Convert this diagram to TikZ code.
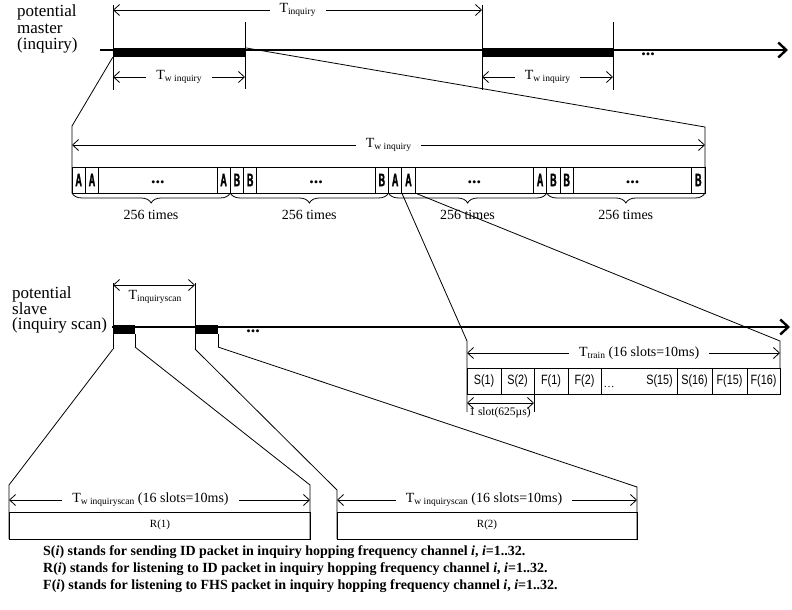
\documentclass[tikz,border=0pt]{standalone}
\usepackage{fontspec}
\setmainfont{Liberation Serif}
\newfontfamily\slotfont[FakeStretch=0.8]{Liberation Sans}
\newfontfamily\cellfont[FakeStretch=0.5,BoldFeatures={FakeBold=1.5}]{Liberation Sans}
\usetikzlibrary{arrows.meta,decorations.pathreplacing}

\newcommand{\Tsub}[1]{T\raisebox{-0.3ex}{\fontsize{9.5}{10}\selectfont #1}}

\tikzset{
  tickline/.style={line width=0.8pt},
  axisline/.style={line width=2.4pt,-{Straight Barb[length=8pt,width=15pt]}},
  dimline/.style={line width=0.8pt,{Straight Barb[length=6pt,width=11pt]}-{Straight Barb[length=6pt,width=11pt]}},
  gap/.style={fill=white,inner xsep=10pt,inner ysep=1pt,font=\fontsize{14}{16}\selectfont},
  lab/.style={font=\fontsize{14}{16}\selectfont},
  burst/.style={fill=black,inner sep=0pt,minimum height=9pt},
  dots/.style={font=\bfseries\fontsize{18}{18}\selectfont,inner sep=0pt},
  cellletter/.style={font=\cellfont\bfseries\fontsize{18}{18}\selectfont,inner sep=0pt},
  slotcell/.style={font=\slotfont\fontsize{13.5}{14}\selectfont,inner sep=0pt},
  brace/.style={decorate,decoration={brace,mirror,amplitude=10pt},line width=0.8pt}
}

\begin{document}
\begin{tikzpicture}[x=1pt,y=-1pt]
\useasboundingbox (0,0) rectangle (792,610);

% potential master
\node[align=left,anchor=north west,inner sep=0pt,font=\fontsize{17}{16.5}\selectfont] (master) at (17,5) {potential\\master\\(inquiry)};
\coordinate (mstart) at (100,50);
\coordinate (mend) at (788,50);
\draw[axisline] (mstart) -- (mend);
\node[burst,minimum width=132pt] (mbar1) at (179,52.5) {};
\node[burst,minimum width=131pt] (mbar2) at (547.5,52.5) {};
\node[dots] (mdots) at (648,54) {...};

% ticks and durations of the master
\draw[tickline] (113,5) -- (113,90);
\draw[tickline] (245,22) -- (245,89);
\draw[tickline] (482,5) -- (482,90);
\draw[tickline] (613,22) -- (613,90);
\draw[dimline] (113,10) -- node[gap] (tinq) {\Tsub{inquiry}} (482,10);
\draw[dimline] (113,77) -- node[gap] (tw1) {\Tsub{w inquiry}} (245,77);
\draw[dimline] (482,77) -- node[gap] (tw2) {\Tsub{w inquiry}} (613,77);

% zoom of one inquiry window
\coordinate (wleft) at (72,126);
\coordinate (wright) at (705,127);
\draw[tickline] (mbar1.south west) -- (wleft) -- (72,193);
\draw[tickline] (mbar1.north east) -- (wright) -- (705,193);
\draw[dimline] (72,145) -- node[gap] (twin) {\Tsub{w inquiry}} (705,145);
\draw[tickline] (72,167) rectangle (705,193);

\foreach \g/\l in {0/A,1/B,2/A,3/B}{
  \pgfmathsetmacro\xa{72+158.25*\g}
  \pgfmathsetmacro\xb{\xa+158.25}
  \draw[tickline] (\xa,167) -- (\xa,193);
  \draw[tickline] (\xa+13.3,167) -- (\xa+13.3,193);
  \draw[tickline] (\xa+26.6,167) -- (\xa+26.6,193);
  \draw[tickline] (\xb-13.3,167) -- (\xb-13.3,193);
  \node[cellletter] (c\g a) at (\xa+6.65,180) {\l};
  \node[cellletter] (c\g b) at (\xa+19.95,180) {\l};
  \node[cellletter] (c\g z) at (\xb-6.65,180) {\l};
  \node[dots] (c\g d) at (\xa+85.8,182) {...};
  \draw[brace] (\xa,193) -- (\xb,193);
  \node[lab] (times\g) at (\xa+79,215) {256 times};
}

% zoom of one train
\coordinate (tl) at (401.8,193);
\coordinate (tr) at (415.1,193);
\coordinate (trainL) at (467,341);
\coordinate (trainR) at (780,341);
\draw[tickline] (tl) -- (trainL) -- (467,412);
\draw[tickline] (tr) -- (trainR) -- (780,368);
\draw[dimline] (467,353) -- node[gap,pos=0.55] (ttrain) {\Tsub{train} (16 slots=10ms)} (780,353);
\draw[tickline] (467,368) rectangle (780,394);
\foreach \xa/\xb/\t [count=\i] in {467/501/S(1),501/534/S(2),534/568/F(1),568/601/F(2),642/677/S(15),677/712/S(16),712/747/F(15),747/780/F(16)}{
  \draw[tickline] (\xb,368) -- (\xb,394);
  \node[slotcell] (slot\i) at ({(\xa+\xb)/2},381) {\t};
}
\draw[tickline] (601,368) -- (601,394);
\node[font=\fontsize{11}{11}\selectfont,inner sep=0pt] (slotdots) at (609,387) {\ldots};
\draw[tickline] (534,394) -- (534,412);
\draw[dimline] (467,403) -- (534,403);
\node[font=\fontsize{11.5}{12}\selectfont,inner sep=0pt] (oneslot) at (500,413) {1 slot(625µs)};

% potential slave
\node[align=left,anchor=north west,inner sep=0pt,font=\fontsize{17}{15.5}\selectfont] (slave) at (12,287) {potential\\slave\\(inquiry scan)};
\coordinate (sstart) at (112,327);
\coordinate (send) at (790,327);
\draw[axisline] (sstart) -- (send);
\node[burst,minimum width=22pt] (sbar1) at (124,329.5) {};
\node[burst,minimum width=23pt] (sbar2) at (206.5,329.5) {};
\node[dots] (sdots) at (253,331) {...};
\draw[tickline] (113,283) -- (113,349);
\draw[tickline] (195,283) -- (195,349);
\draw[tickline] (135,334) -- (135,347);
\draw[tickline] (218,334) -- (218,347);
\draw[dimline] (113,285) -- (195,285);
\node[inner sep=0pt,font=\fontsize{14}{16}\selectfont] (tscan) at (155,297) {\Tsub{inquiryscan}};

% zoom of the scan windows
\coordinate (r1l) at (9,485);
\coordinate (r1r) at (310,485);
\coordinate (r2l) at (337,490);
\coordinate (r2r) at (637,487);
\draw[tickline] (113,349) -- (r1l) -- (9,539);
\draw[tickline] (135,347) -- (r1r) -- (310,539);
\draw[tickline] (195,349) -- (r2l) -- (337,539);
\draw[tickline] (218,347) -- (r2r) -- (637,539);
\draw[dimline] (9,500) -- node[gap,pos=0.47] (tws1) {\Tsub{w inquiryscan} (16 slots=10ms)} (310,500);
\draw[dimline] (337,500) -- node[gap,pos=0.49] (tws2) {\Tsub{w inquiryscan} (16 slots=10ms)} (637,500);
\draw[tickline] (9,512) rectangle (310,539);
\draw[tickline] (337,512) rectangle (637,539);
\node[font=\fontsize{11}{12}\selectfont] (r1) at (160,525) {R(1)};
\node[font=\fontsize{11}{12}\selectfont] (r2) at (487,525) {R(2)};

% legend
\node[align=left,anchor=north west,inner sep=0pt,font=\bfseries\fontsize{14}{17}\selectfont] (legend) at (43,545)
  {S(\textit{i}) stands for sending ID packet in inquiry hopping frequency channel \textit{i}, \textit{i}=1..32.\\
   R(\textit{i}) stands for listening to ID packet in inquiry hopping frequency channel \textit{i}, \textit{i}=1..32.\\
   F(\textit{i}) stands for listening to FHS packet in inquiry hopping frequency channel \textit{i}, \textit{i}=1..32.};
\end{tikzpicture}
\end{document}
